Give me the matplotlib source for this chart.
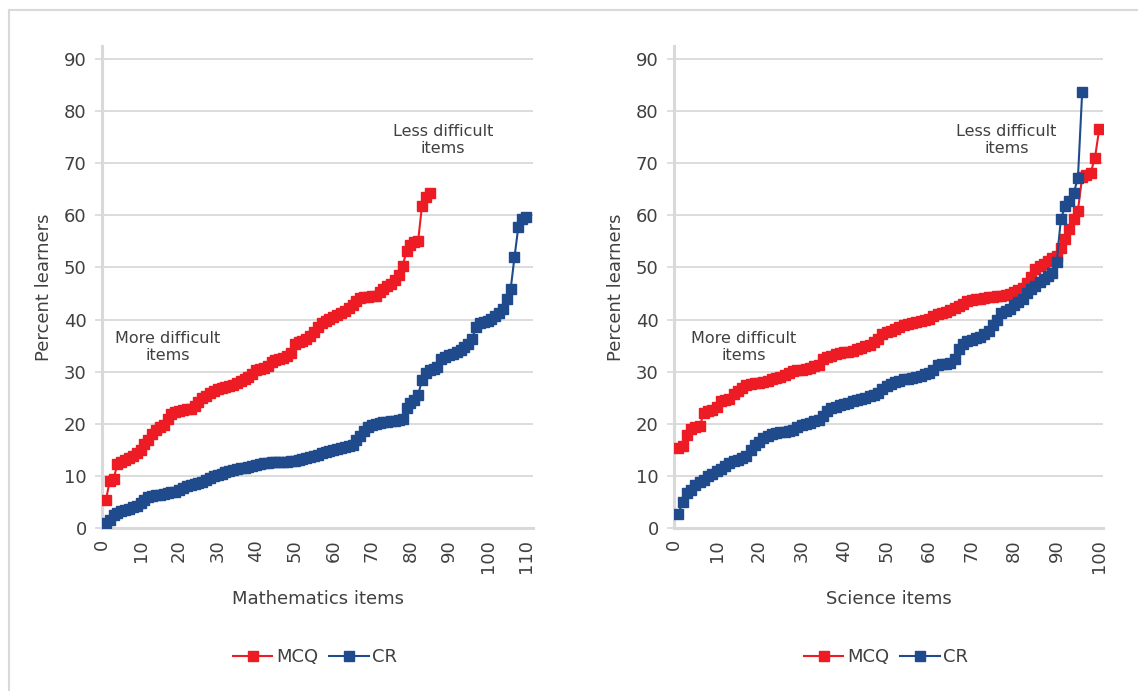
import matplotlib
matplotlib.use("Agg")
import matplotlib.pyplot as plt
from matplotlib.lines import Line2D

RED = "#ED1C24"
BLUE = "#1F4A8C"
GRID = "#D9D9D9"
TEXT = "#404040"

# ---- data (percent of learners answering correctly, items sorted)
math_mcq = [
    5.3, 9.0, 9.4, 12.3, 12.7, 13.0, 13.4, 13.9, 14.4, 15.0,
    16.2, 16.9, 18.0, 18.9, 19.4, 19.8, 21.0, 21.8, 22.2, 22.5,
    22.7, 22.8, 22.9, 23.4, 24.2, 25.0, 25.4, 25.9, 26.3, 26.6,
    26.8, 27.0, 27.2, 27.5, 27.9, 28.2, 28.5, 29.0, 29.5, 30.3,
    30.5, 30.7, 31.1, 31.8, 32.2, 32.4, 32.6, 33.0, 33.5, 35.3,
    35.6, 35.9, 36.3, 36.8, 37.6, 38.5, 39.3, 39.8, 40.2, 40.5,
    40.9, 41.2, 41.6, 42.2, 42.7, 43.5, 44.2, 44.3, 44.4, 44.5,
    44.6, 45.2, 45.8, 46.4, 46.9, 47.6, 48.6, 50.3, 53.2, 54.3,
    54.8, 55.1, 61.8, 63.6, 64.2,
]
math_cr = [
    1.0, 1.6, 2.4, 2.8, 3.2, 3.5, 3.7, 4.0, 4.3, 4.8,
    5.3, 5.9, 6.1, 6.3, 6.4, 6.6, 6.8, 6.9, 7.0, 7.2,
    7.6, 8.0, 8.2, 8.5, 8.6, 8.8, 9.3, 9.6, 9.9, 10.1,
    10.4, 10.7, 11.0, 11.2, 11.3, 11.5, 11.6, 11.8, 11.9, 12.1,
    12.3, 12.4, 12.5, 12.6, 12.6, 12.6, 12.6, 12.7, 12.8, 12.9,
    13.0, 13.2, 13.4, 13.6, 13.9, 14.1, 14.3, 14.6, 14.8, 15.0,
    15.2, 15.4, 15.5, 15.7, 16.0, 16.8, 17.6, 18.7, 19.4, 19.8,
    20.0, 20.2, 20.3, 20.4, 20.5, 20.6, 20.8, 21.0, 23.0, 24.0,
    24.6, 25.5, 28.4, 29.8, 30.3, 30.5, 30.9, 32.4, 32.9, 33.2,
    33.4, 33.8, 34.2, 34.8, 35.4, 36.3, 38.5, 39.3, 39.6, 39.8,
    40.2, 40.7, 41.3, 42.0, 44.0, 45.8, 52.0, 57.8, 59.3, 59.6,
]
sci_mcq = [
    15.4, 15.7, 17.9, 19.0, 19.3, 19.5, 22.0, 22.4, 22.7, 23.2,
    24.3, 24.6, 24.8, 25.8, 26.3, 26.8, 27.4, 27.6, 27.8, 27.9,
    28.1, 28.3, 28.5, 28.7, 29.0, 29.3, 29.8, 30.1, 30.3, 30.4,
    30.6, 30.8, 31.0, 31.3, 32.4, 32.8, 33.1, 33.4, 33.6, 33.7,
    33.8, 34.0, 34.3, 34.6, 34.9, 35.2, 35.6, 36.2, 37.3, 37.6,
    37.9, 38.2, 38.6, 39.0, 39.2, 39.3, 39.5, 39.7, 40.0, 40.2,
    40.6, 41.0, 41.2, 41.4, 41.8, 42.2, 42.6, 43.0, 43.5, 43.7,
    43.9, 44.0, 44.1, 44.3, 44.4, 44.5, 44.6, 44.8, 45.0, 45.3,
    45.6, 46.1, 47.0, 48.2, 49.8, 50.3, 50.7, 51.2, 51.9, 52.2,
    53.8, 55.4, 57.3, 59.3, 60.9, 67.4, 67.8, 68.2, 71.0, 76.5,
]
sci_cr = [
    2.6, 5.0, 6.8, 7.3, 8.2, 8.8, 9.3, 9.9, 10.3, 11.0,
    11.4, 11.9, 12.4, 12.8, 13.1, 13.4, 13.8, 15.0, 16.0, 16.5,
    17.2, 17.6, 18.1, 18.3, 18.4, 18.5, 18.7, 18.9, 19.3, 19.7,
    20.0, 20.2, 20.5, 20.8, 21.4, 22.5, 23.1, 23.3, 23.6, 23.8,
    24.0, 24.3, 24.5, 24.8, 25.0, 25.3, 25.6, 26.0, 26.6, 27.3,
    27.6, 28.1, 28.3, 28.5, 28.6, 28.8, 29.0, 29.2, 29.5, 29.8,
    30.4, 31.2, 31.4, 31.5, 31.6, 32.5, 34.3, 35.3, 35.9, 36.1,
    36.4, 36.7, 37.2, 37.8, 38.9, 40.0, 41.2, 41.7, 42.0, 42.8,
    43.3, 43.9, 45.1, 45.9, 46.5, 47.2, 47.7, 48.3, 49.0, 51.0,
    59.3, 61.8, 62.8, 64.3, 67.1, 83.6,
]

math_xticks = list(range(0, 111, 10))
sci_xticks = list(range(0, 101, 10))
yticks = list(range(0, 91, 10))

plt.rcParams['font.family'] = ['DejaVu Sans']

fig = plt.figure(figsize=(11.38, 6.91), dpi=100)

# light frame on the left and top like the source
fig.add_artist(Line2D([9 / 1138, 9 / 1138], [0, 1 - 10 / 691], color=GRID, lw=1.5, transform=fig.transFigure))
fig.add_artist(Line2D([9 / 1138, 1], [1 - 10 / 691, 1 - 10 / 691], color=GRID, lw=1.5, transform=fig.transFigure))


def draw_panel(rect, mcq, cr, xmax, xticks, xlabel, more_xy, less_xy, legend_x):
    ax = fig.add_axes(rect)
    ax.plot(range(1, len(mcq) + 1), mcq, color=RED, marker='s', ms=7.5, lw=1.5, label='MCQ', zorder=3)
    ax.plot(range(1, len(cr) + 1), cr, color=BLUE, marker='s', ms=7.5, lw=1.5, label='CR', zorder=3)

    ax.set_xlim(0, xmax)
    ax.set_ylim(0, 92.5)
    ax.set_xticks(xticks)
    ax.set_xticklabels([str(t) for t in xticks], rotation=90)
    ax.set_yticks(yticks)
    ax.grid(axis='y', color=GRID, lw=1.3)
    ax.set_axisbelow(True)

    for s in ['top', 'right']:
        ax.spines[s].set_visible(False)
    ax.spines['left'].set_color(GRID)
    ax.spines['left'].set_linewidth(2.2)
    ax.spines['bottom'].set_color(GRID)
    ax.spines['bottom'].set_linewidth(2.2)

    ax.tick_params(axis='y', length=5, width=1.2, color=GRID, labelsize=13, labelcolor=TEXT, pad=6)
    ax.tick_params(axis='x', length=0, labelsize=13, labelcolor=TEXT, pad=8)

    ax.set_ylabel('Percent learners', fontsize=13, color=TEXT, labelpad=8)
    ax.set_xlabel(xlabel, fontsize=13, color=TEXT, labelpad=12)

    ax.text(more_xy[0], more_xy[1], 'More difficult\nitems', ha='center', va='center',
            fontsize=11.5, color=TEXT, linespacing=1.15)
    ax.text(less_xy[0], less_xy[1], 'Less difficult\nitems', ha='center', va='center',
            fontsize=11.5, color=TEXT, linespacing=1.15)

    fig.legend(handles=ax.get_lines(), loc='center', bbox_to_anchor=(legend_x, 0.049),
               ncol=2, frameon=False, fontsize=13, handlelength=2.2, handletextpad=0.2,
               columnspacing=0.6, labelcolor=TEXT)
    return ax


draw_panel([102 / 1138, 1 - 528 / 691, 431 / 1138, 482 / 691], math_mcq, math_cr, 111.8,
           math_xticks, 'Mathematics items', (17, 34.7), (88.5, 74.5), 315 / 1138)
draw_panel([674 / 1138, 1 - 528 / 691, 429 / 1138, 482 / 691], sci_mcq, sci_cr, 100.9,
           sci_xticks, 'Science items', (16.4, 34.7), (78.2, 74.5), 886 / 1138)

fig.savefig('out.png', dpi=100)
